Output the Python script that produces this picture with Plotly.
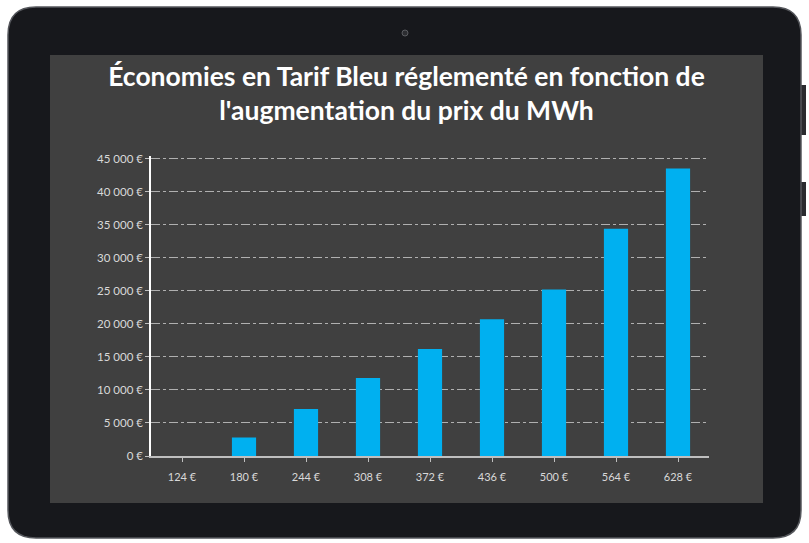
import plotly.graph_objects as go

# ---- data ----
categories = ["124 €", "180 €", "244 €", "308 €", "372 €", "436 €", "500 €", "564 €", "628 €"]
savings = [0, 2800, 7100, 11800, 16200, 20700, 25200, 34400, 43500]
y_tick_values = [0, 5000, 10000, 15000, 20000, 25000, 30000, 35000, 40000, 45000]
y_tick_labels = ["0 €", "5 000 €", "10 000 €", "15 000 €", "20 000 €", "25 000 €",
                 "30 000 €", "35 000 €", "40 000 €", "45 000 €"]
title_text = "Économies en Tarif Bleu réglementé en fonction de<br>l'augmentation du prix du MWh"

W, H = 809, 543
L, R, T, B = 151, 709, 156, 456  # plot area in pixels

def px(x):
    return (x - L) / (R - L)

def py(y):
    return (B - y) / (B - T)

def rounded_rect(x0, y0, x1, y1, r):
    pts = (
        f"M {px(x0 + r)},{py(y0)} L {px(x1 - r)},{py(y0)} "
        f"Q {px(x1)},{py(y0)} {px(x1)},{py(y0 + r)} "
        f"L {px(x1)},{py(y1 - r)} Q {px(x1)},{py(y1)} {px(x1 - r)},{py(y1)} "
        f"L {px(x0 + r)},{py(y1)} Q {px(x0)},{py(y1)} {px(x0)},{py(y1 - r)} "
        f"L {px(x0)},{py(y0 + r)} Q {px(x0)},{py(y0)} {px(x0 + r)},{py(y0)} Z"
    )
    return pts

shapes = [
    # side buttons
    dict(type="rect", xref="paper", yref="paper", x0=px(797), x1=px(806), y0=py(85), y1=py(135),
         fillcolor="#2a2b2f", line=dict(width=0), layer="below"),
    dict(type="rect", xref="paper", yref="paper", x0=px(797), x1=px(806), y0=py(182), y1=py(216),
         fillcolor="#2a2b2f", line=dict(width=0), layer="below"),
    # tablet body
    dict(type="path", xref="paper", yref="paper", path=rounded_rect(8, 7, 801, 538, 28),
         fillcolor="#17181c", line=dict(color="#55575c", width=1.5), layer="below"),
    # screen
    dict(type="rect", xref="paper", yref="paper", x0=px(50), x1=px(763), y0=py(55), y1=py(503),
         fillcolor="#404040", line=dict(width=0), layer="below"),
    # camera
    dict(type="circle", xref="paper", yref="paper", x0=px(402), x1=px(408), y0=py(30), y1=py(36),
         fillcolor="#2c2d31", line=dict(color="#5a5c60", width=1), layer="below"),
]

fig = go.Figure(
    go.Bar(
        x=categories,
        y=savings,
        marker=dict(color="#00B0F0", line=dict(width=0)),
        hovertemplate="%{x}: %{y}<extra></extra>",
    )
)

fig.update_layout(
    width=W,
    height=H,
    margin=dict(l=L, r=W - R, t=T, b=H - B, pad=0),
    paper_bgcolor="white",
    plot_bgcolor="rgba(0,0,0,0)",
    bargap=0.61,
    showlegend=False,
    shapes=shapes,
    font=dict(family="Lato, 'Open Sans', sans-serif", color="#d9d9d9", size=11),
    title=dict(
        text=title_text,
        x=(50 + 763) / 2 / W,
        xanchor="center",
        y=1 - 86 / H,
        yanchor="top",
        yref="container",
        font=dict(family="Lato, 'Open Sans', sans-serif", size=26.5, color="white", weight="bold"),
    ),
)

fig.update_xaxes(
    type="category",
    showline=True,
    linecolor="#bfbfbf",
    linewidth=1.5,
    ticks="outside",
    ticklen=4,
    tickcolor="#bfbfbf",
    showgrid=False,
    tickfont=dict(color="#d9d9d9", size=11),
    ticklabelstandoff=6,
)

fig.update_yaxes(
    range=[0, 45400],
    tickvals=y_tick_values,
    ticktext=y_tick_labels,
    showline=True,
    linecolor="white",
    linewidth=1.5,
    ticks="outside",
    ticklen=4,
    tickcolor="#bfbfbf",
    showgrid=True,
    gridcolor="#b0b0b0",
    gridwidth=1,
    griddash="dashdot",
    zeroline=False,
    tickfont=dict(color="#d9d9d9", size=11.5),
)

fig.write_html(
    "out.html",
    config={"displayModeBar": False},
    post_script="document.body.style.margin='0';document.body.style.overflow='hidden';",
)
